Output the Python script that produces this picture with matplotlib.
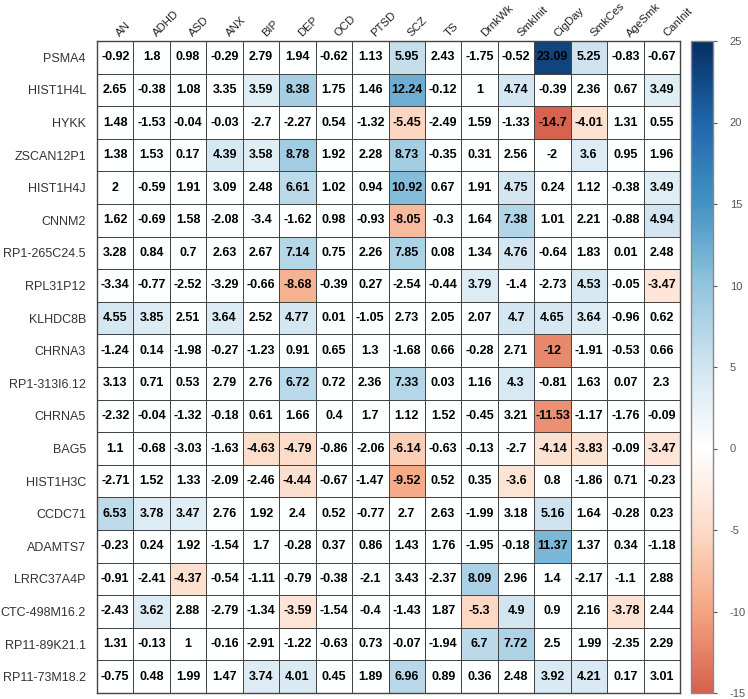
import numpy as np
import matplotlib
matplotlib.use("Agg")
import matplotlib.pyplot as plt
from matplotlib.colors import LinearSegmentedColormap, Normalize

plt.rcParams["font.family"] = ["Liberation Sans", "DejaVu Sans"]
plt.rcParams["axes.unicode_minus"] = False

traits = ["AN", "ADHD", "ASD", "ANX", "BIP", "DEP", "OCD", "PTSD", "SCZ", "TS",
          "DrnkWk", "SmkInit", "CigDay", "SmkCes", "AgeSmk", "CanInit"]
genes = ["PSMA4", "HIST1H4L", "HYKK", "ZSCAN12P1", "HIST1H4J", "CNNM2",
         "RP1-265C24.5", "RPL31P12", "KLHDC8B", "CHRNA3", "RP1-313I6.12", "CHRNA5",
         "BAG5", "HIST1H3C", "CCDC71", "ADAMTS7", "LRRC37A4P", "CTC-498M16.2",
         "RP11-89K21.1", "RP11-73M18.2"]

# z-scores, one row per gene
z_psma4 = [-0.92, 1.8, 0.98, -0.29, 2.79, 1.94, -0.62, 1.13, 5.95, 2.43, -1.75, -0.52, 23.09, 5.25, -0.83, -0.67]
z_hist1h4l = [2.65, -0.38, 1.08, 3.35, 3.59, 8.38, 1.75, 1.46, 12.24, -0.12, 1, 4.74, -0.39, 2.36, 0.67, 3.49]
z_hykk = [1.48, -1.53, -0.04, -0.03, -2.7, -2.27, 0.54, -1.32, -5.45, -2.49, 1.59, -1.33, -14.7, -4.01, 1.31, 0.55]
z_zscan12p1 = [1.38, 1.53, 0.17, 4.39, 3.58, 8.78, 1.92, 2.28, 8.73, -0.35, 0.31, 2.56, -2, 3.6, 0.95, 1.96]
z_hist1h4j = [2, -0.59, 1.91, 3.09, 2.48, 6.61, 1.02, 0.94, 10.92, 0.67, 1.91, 4.75, 0.24, 1.12, -0.38, 3.49]
z_cnnm2 = [1.62, -0.69, 1.58, -2.08, -3.4, -1.62, 0.98, -0.93, -8.05, -0.3, 1.64, 7.38, 1.01, 2.21, -0.88, 4.94]
z_rp1_265 = [3.28, 0.84, 0.7, 2.63, 2.67, 7.14, 0.75, 2.26, 7.85, 0.08, 1.34, 4.76, -0.64, 1.83, 0.01, 2.48]
z_rpl31p12 = [-3.34, -0.77, -2.52, -3.29, -0.66, -8.68, -0.39, 0.27, -2.54, -0.44, 3.79, -1.4, -2.73, 4.53, -0.05, -3.47]
z_klhdc8b = [4.55, 3.85, 2.51, 3.64, 2.52, 4.77, 0.01, -1.05, 2.73, 2.05, 2.07, 4.7, 4.65, 3.64, -0.96, 0.62]
z_chrna3 = [-1.24, 0.14, -1.98, -0.27, -1.23, 0.91, 0.65, 1.3, -1.68, 0.66, -0.28, 2.71, -12, -1.91, -0.53, 0.66]
z_rp1_313 = [3.13, 0.71, 0.53, 2.79, 2.76, 6.72, 0.72, 2.36, 7.33, 0.03, 1.16, 4.3, -0.81, 1.63, 0.07, 2.3]
z_chrna5 = [-2.32, -0.04, -1.32, -0.18, 0.61, 1.66, 0.4, 1.7, 1.12, 1.52, -0.45, 3.21, -11.53, -1.17, -1.76, -0.09]
z_bag5 = [1.1, -0.68, -3.03, -1.63, -4.63, -4.79, -0.86, -2.06, -6.14, -0.63, -0.13, -2.7, -4.14, -3.83, -0.09, -3.47]
z_hist1h3c = [-2.71, 1.52, 1.33, -2.09, -2.46, -4.44, -0.67, -1.47, -9.52, 0.52, 0.35, -3.6, 0.8, -1.86, 0.71, -0.23]
z_ccdc71 = [6.53, 3.78, 3.47, 2.76, 1.92, 2.4, 0.52, -0.77, 2.7, 2.63, -1.99, 3.18, 5.16, 1.64, -0.28, 0.23]
z_adamts7 = [-0.23, 0.24, 1.92, -1.54, 1.7, -0.28, 0.37, 0.86, 1.43, 1.76, -1.95, -0.18, 11.37, 1.37, 0.34, -1.18]
z_lrrc37a4p = [-0.91, -2.41, -4.37, -0.54, -1.11, -0.79, -0.38, -2.1, 3.43, -2.37, 8.09, 2.96, 1.4, -2.17, -1.1, 2.88]
z_ctc_498 = [-2.43, 3.62, 2.88, -2.79, -1.34, -3.59, -1.54, -0.4, -1.43, 1.87, -5.3, 4.9, 0.9, 2.16, -3.78, 2.44]
z_rp11_89 = [1.31, -0.13, 1, -0.16, -2.91, -1.22, -0.63, 0.73, -0.07, -1.94, 6.7, 7.72, 2.5, 1.99, -2.35, 2.29]
z_rp11_73 = [-0.75, 0.48, 1.99, 1.47, 3.74, 4.01, 0.45, 1.89, 6.96, 0.89, 0.36, 2.48, 3.92, 4.21, 0.17, 3.01]

z = np.array([z_psma4, z_hist1h4l, z_hykk, z_zscan12p1, z_hist1h4j, z_cnnm2, z_rp1_265,
              z_rpl31p12, z_klhdc8b, z_chrna3, z_rp1_313, z_chrna5, z_bag5, z_hist1h3c,
              z_ccdc71, z_adamts7, z_lrrc37a4p, z_ctc_498, z_rp11_89, z_rp11_73])

# only significant cells get a colour
threshold = 3.45
colored = np.where(np.abs(z) >= threshold, z, 0.0)

cmap = LinearSegmentedColormap.from_list(
    "rdbu", ["#D6604D", "#F4A582", "#FDDBC7", "#FFFFFF", "#D1E5F0",
             "#92C5DE", "#4393C3", "#2166AC", "#053061"])
norm = Normalize(vmin=-15, vmax=25)

W, H = 748, 699
fig = plt.figure(figsize=(W / 100, H / 100), dpi=100)
ax = fig.add_axes([97 / W, 1 - 693 / H, 583 / W, 652 / H])
cax = fig.add_axes([691 / W, 1 - 693 / H, 22 / W, 652 / H])

nr, nc = z.shape
ax.pcolormesh(np.arange(nc + 1), np.arange(nr + 1), colored, cmap=cmap, norm=norm,
              edgecolors="#444444", linewidth=0.7)
ax.set_xlim(0, nc)
ax.set_ylim(nr, 0)

for i in range(nr):
    for j in range(nc):
        ax.text(j + 0.5, i + 0.5, f"{z[i, j]:g}", ha="center", va="center",
                fontsize=9, fontweight="bold", color="black")

ax.set_xticks([])
ax.set_yticks(np.arange(nr) + 0.5)
ax.set_yticklabels(genes, fontsize=9, color="#333333")
ax.tick_params(axis="y", length=0, pad=8)
for j, t in enumerate(traits):
    ax.text(j + 0.68, -0.07, t, rotation=45, rotation_mode="anchor",
            ha="left", va="bottom", fontsize=8.2, color="#222222")
for spine in ax.spines.values():
    spine.set_color("#444444")
    spine.set_linewidth(1.0)

cb = fig.colorbar(plt.cm.ScalarMappable(norm=norm, cmap=cmap), cax=cax)
cb.set_ticks(np.arange(-15, 26, 5))
cb.ax.tick_params(labelsize=8, colors="#555555", length=3, pad=9, width=0.8)
cb.outline.set_edgecolor("#888888")
cb.outline.set_linewidth(1.0)

fig.savefig("out.png", dpi=100)
